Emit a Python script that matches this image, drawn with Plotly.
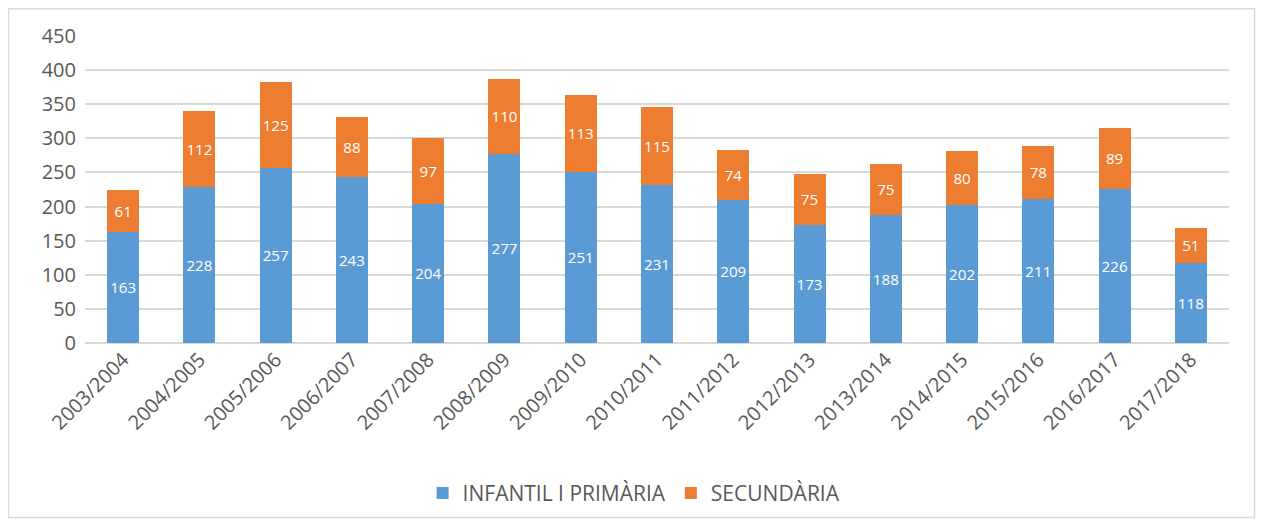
import plotly.graph_objects as go

cursos = ["2003/2004", "2004/2005", "2005/2006", "2006/2007", "2007/2008",
          "2008/2009", "2009/2010", "2010/2011", "2011/2012", "2012/2013",
          "2013/2014", "2014/2015", "2015/2016", "2016/2017", "2017/2018"]
infantil_primaria = [163, 228, 257, 243, 204, 277, 251, 231, 209, 173, 188, 202, 211, 226, 118]
secundaria = [61, 112, 125, 88, 97, 110, 113, 115, 74, 75, 75, 80, 78, 89, 51]

FONT = "Open Sans"
GREY = "#595959"


def main():
    fig = plot()
    fig.write_html("out.html")


def plot():
    fig = go.Figure()
    fig.add_trace(go.Bar(
        x=cursos, y=infantil_primaria, name="INFANTIL I PRIMÀRIA",
        marker=dict(color="#5B9BD5", line=dict(width=0)),
        text=infantil_primaria, textposition="inside", insidetextanchor="middle",
        textangle=0, textfont=dict(color="white", size=21, family=FONT),
    ))
    fig.add_trace(go.Bar(
        x=cursos, y=secundaria, name="SECUNDÀRIA",
        marker=dict(color="#ED7D31", line=dict(width=0)),
        text=secundaria, textposition="inside", insidetextanchor="middle",
        textangle=0, textfont=dict(color="white", size=21, family=FONT),
    ))

    # page body has an 8px margin, so the figure is sized to fit the window
    fig.update_layout(
        barmode="stack",
        bargap=0.58,
        width=1248, height=511,
        margin=dict(l=77, r=27, t=28, b=176, autoexpand=False),
        plot_bgcolor="white", paper_bgcolor="white",
        font=dict(family=FONT, color=GREY, size=20),
        uniformtext=dict(mode="show", minsize=10),
        legend=dict(orientation="h", x=0.48, xanchor="center",
                    yref="container", y=0.05, yanchor="middle",
                    bgcolor="rgba(0,0,0,0)",
                    font=dict(size=21, color=GREY), itemwidth=30, traceorder="normal"),
        xaxis=dict(tickangle=-45, tickfont=dict(size=20), showline=False, ticks=""),
        yaxis=dict(range=[0, 450], dtick=50, tickfont=dict(size=20),
                   gridcolor="#d9d9d9", gridwidth=1.5, zeroline=True,
                   zerolinecolor="#d9d9d9", zerolinewidth=1.5, ticks="",
                   ticklabelstandoff=8),
        shapes=[dict(type="rect", xref="paper", yref="paper",
                     x0=-0.0669, x1=1.0223, y0=-0.568, y1=1.089,
                     line=dict(color="#d9d9d9", width=1.5), layer="below")],
    )
    return fig


main()
